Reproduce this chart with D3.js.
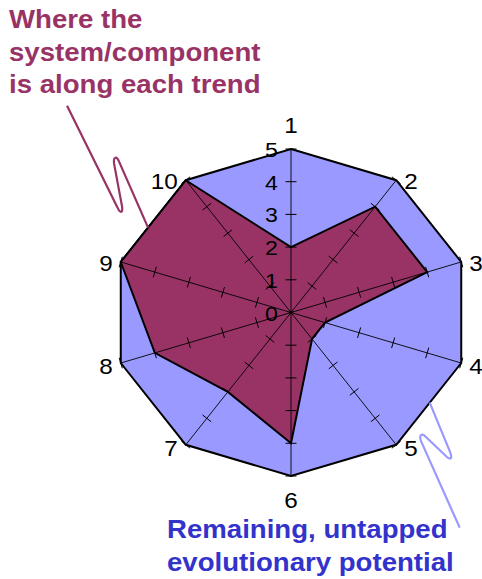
<!DOCTYPE html>
<html>
<head>
<meta charset="utf-8">
<script src="https://cdn.jsdelivr.net/npm/d3@7"></script>
<style>
  html, body { margin: 0; padding: 0; background: #fff; }
  svg { display: block; }
  text { font-family: "Liberation Sans", Arial, Helvetica, sans-serif; }
</style>
</head>
<body>
<svg id="chart" width="482" height="579"></svg>
<script>
// ---- data ----
const axes = ["1", "2", "3", "4", "5", "6", "7", "8", "9", "10"];
const currentValues = [2, 4, 4, 1, 1, 4, 3, 4, 5, 5];
const potentialValues = [5, 5, 5, 5, 5, 5, 5, 5, 5, 5];
const tickValues = [0, 1, 2, 3, 4, 5];
const titleLines = ["Where the", "system/component", "is along each trend"];
const bottomLines = ["Remaining, untapped", "evolutionary potential"];

// ---- layout ----
const W = 482, H = 579;
const cx = 291, cy = 312.5, rx = 179, ry = 163.5;
const stretch = 1.104;
const maroon = "#993366", periwinkle = "#9999ff", blueText = "#3333cc";

const svg = d3.select("#chart");
const x = d3.scaleLinear().domain([-5, 5]).range([cx - rx, cx + rx]);
const y = d3.scaleLinear().domain([-5, 5]).range([cy + ry, cy - ry]);
const angle = d3.scaleLinear().domain([0, axes.length]).range([0, 2 * Math.PI]);

function pt(i, v) {
  const a = angle(i);
  return [x(v * Math.sin(a)), y(v * Math.cos(a))];
}
const closed = d3.line().curve(d3.curveLinearClosed);

// outer polygon (potential)
svg.append("path")
  .attr("d", closed(potentialValues.map((v, i) => pt(i, v))))
  .attr("fill", periwinkle)
  .attr("stroke", "#000")
  .attr("stroke-width", 2)
  .attr("stroke-linejoin", "miter");

// inner polygon (current)
svg.append("path")
  .attr("d", closed(currentValues.map((v, i) => pt(i, v))))
  .attr("fill", maroon)
  .attr("stroke", "#000")
  .attr("stroke-width", 2)
  .attr("stroke-linejoin", "miter");

// axis lines + ticks
const maxTick = d3.max(tickValues);
axes.forEach((name, i) => {
  const end = pt(i, maxTick);
  svg.append("line")
    .attr("x1", x(0)).attr("y1", y(0))
    .attr("x2", end[0]).attr("y2", end[1])
    .attr("stroke", "#000").attr("stroke-width", 0.9);
  const dx = end[0] - x(0), dy = end[1] - y(0);
  const len = Math.hypot(dx, dy);
  const nx = -dy / len, ny = dx / len;
  const h = 5.5;
  tickValues.filter(v => v > 0).forEach(v => {
    const p = pt(i, v);
    svg.append("line")
      .attr("x1", p[0] - h * nx).attr("y1", p[1] - h * ny)
      .attr("x2", p[0] + h * nx).attr("y2", p[1] + h * ny)
      .attr("stroke", "#000").attr("stroke-width", 1);
  });
});
svg.append("circle").attr("cx", x(0)).attr("cy", y(0)).attr("r", 1.8).attr("fill", "#000");

function stretchedText(tx, ty, str, opts) {
  const t = svg.append("text")
    .attr("transform", `translate(${tx},${ty}) scale(${stretch},1)`)
    .attr("x", 0).attr("y", 0)
    .attr("font-size", opts.size)
    .attr("fill", opts.fill || "#000")
    .attr("text-anchor", opts.anchor || "start")
    .text(str);
  if (opts.bold) t.attr("font-weight", "bold");
  return t;
}

// tick labels along axis 1
tickValues.forEach(v => {
  stretchedText(x(0) - 13, y(v) + 8, String(v), { size: 21, anchor: "end" });
});

// axis labels
axes.forEach((name, i) => {
  const p = pt(i, maxTick);
  const s = Math.sin(angle(i));
  const c = Math.cos(angle(i));
  if (Math.abs(s) < 0.1) {
    const by = c > 0 ? p[1] - 16 : p[1] + 32;
    stretchedText(p[0], by, name, { size: 22, anchor: "middle" });
  } else if (s > 0) {
    stretchedText(p[0] + 8, p[1] + 9 + (c < 0 ? 2 : 0), name, { size: 22, anchor: "start" });
  } else {
    stretchedText(p[0] - 8, p[1] + 9 + (c < 0 ? 2 : 0), name, { size: 22, anchor: "end" });
  }
});

// annotation squiggles, anchored on polygon edges
function edgePoint(i, j, t) {
  const a = pt(i, potentialValues[i]), b = pt(j, potentialValues[j]);
  return [a[0] + (b[0] - a[0]) * t, a[1] + (b[1] - a[1]) * t];
}
const mE = edgePoint(8, 9, 0.42);
const mPath = d3.path();
mPath.moveTo(mE[0] - 81, mE[1] - 122);
mPath.lineTo(mE[0] - 31, mE[1] - 21);
mPath.bezierCurveTo(mE[0] - 28, mE[1] - 14, mE[0] - 25, mE[1] - 14, mE[0] - 26, mE[1] - 21);
mPath.lineTo(mE[0] - 34, mE[1] - 64);
mPath.bezierCurveTo(mE[0] - 35, mE[1] - 71, mE[0] - 31, mE[1] - 72, mE[0] - 29, mE[1] - 66);
mPath.lineTo(mE[0], mE[1]);
svg.append("path").attr("d", mPath.toString())
  .attr("fill", "none").attr("stroke", maroon).attr("stroke-width", 2.2);

const bE = edgePoint(3, 4, 0.485);
const bPath = d3.path();
bPath.moveTo(bE[0], bE[1]);
bPath.lineTo(bE[0] + 19, bE[1] + 46);
bPath.bezierCurveTo(bE[0] + 22, bE[1] + 53, bE[0] + 23, bE[1] + 58, bE[0] + 18, bE[1] + 55);
bPath.lineTo(bE[0] - 4, bE[1] + 34);
bPath.bezierCurveTo(bE[0] - 9, bE[1] + 29, bE[0] - 11, bE[1] + 34, bE[0] - 8, bE[1] + 40);
bPath.lineTo(bE[0] + 30, bE[1] + 125);
svg.append("path").attr("d", bPath.toString())
  .attr("fill", "none").attr("stroke", periwinkle).attr("stroke-width", 2.2);

// annotation texts
titleLines.forEach((line, k) => {
  stretchedText(9, 28 + k * 32.5, line, { size: 25, bold: true, fill: maroon });
});
bottomLines.forEach((line, k) => {
  stretchedText(167, 538 + k * 33, line, { size: 25, bold: true, fill: blueText });
});
</script>
</body>
</html>
